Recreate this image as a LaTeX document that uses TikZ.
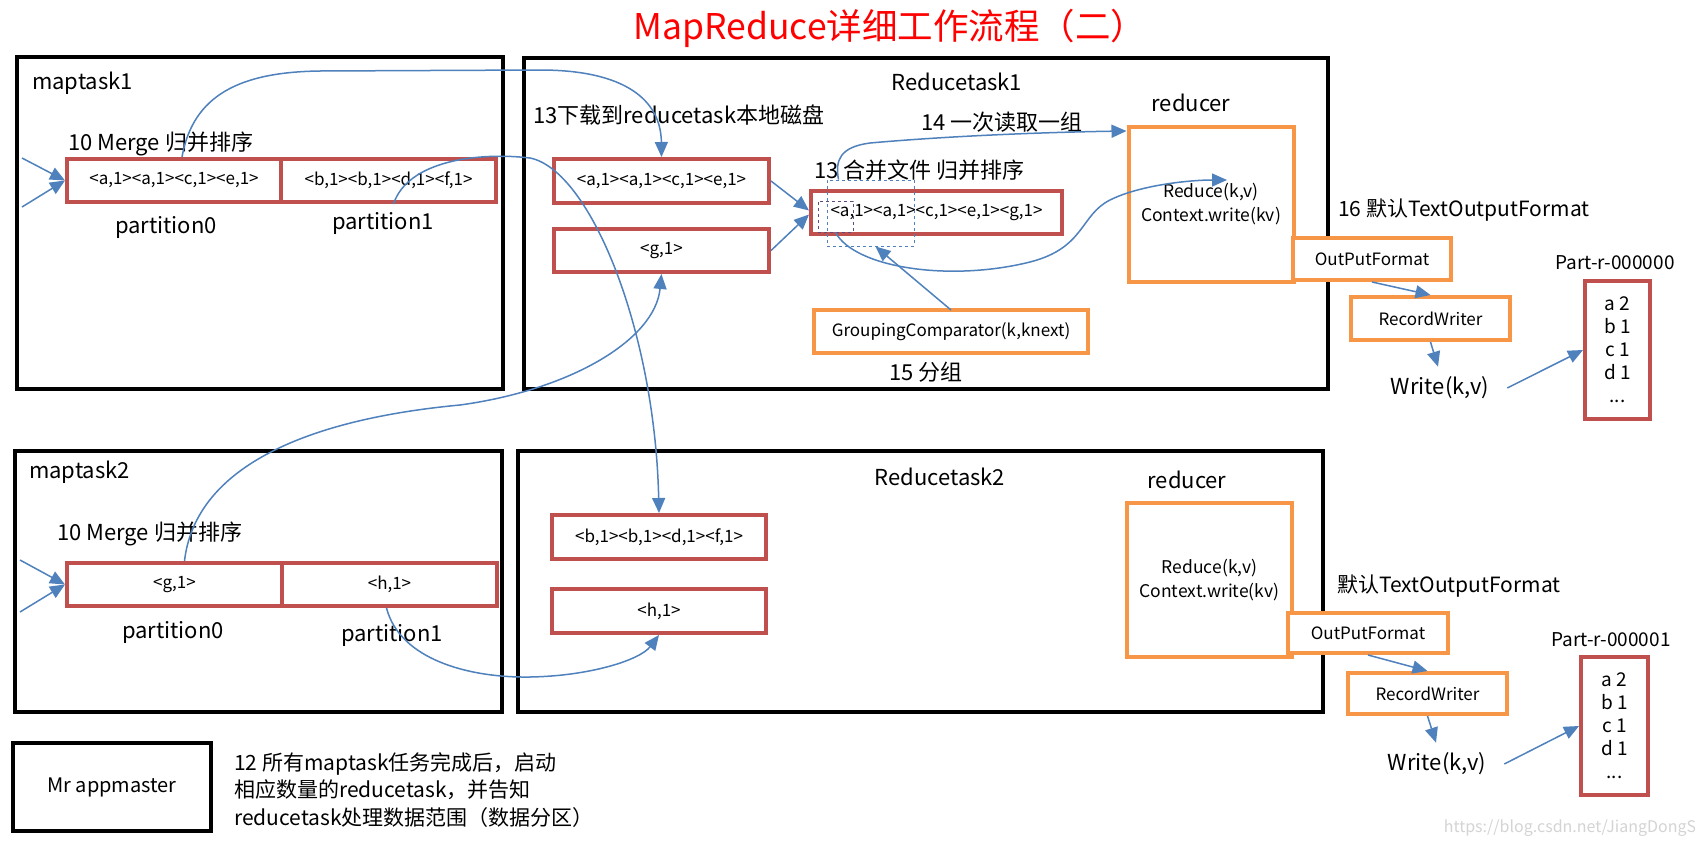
\documentclass[tikz,border=0pt]{standalone}
\usepackage{fontspec}
\setmainfont{Noto Sans CJK SC}
\usetikzlibrary{arrows.meta}
\definecolor{boxred}{HTML}{C0504D}
\definecolor{boxorange}{HTML}{F79646}
\definecolor{flowblue}{HTML}{4F81BD}
\definecolor{grpurple}{HTML}{604A7B}
\definecolor{wmgray}{HTML}{D4D4D4}
\newcommand{\bigf}{\fontsize{22}{27}\selectfont}
\newcommand{\smallf}{\fontsize{17}{21}\selectfont}
\newcommand{\partf}{\fontsize{19}{23}\selectfont}
\tikzset{
  taskbox/.style={draw=black, line width=4.5pt, inner sep=0pt},
  redbox/.style={draw=boxred, line width=4pt, fill=white, inner sep=0pt, font=\smallf},
  orangebox/.style={draw=boxorange, line width=4pt, fill=white, inner sep=0pt, font=\smallf},
  lbl/.style={inner sep=0pt, font=\bigf},
  sz/.style 2 args={minimum width=#1, minimum height=#2},
  flow/.style={draw=flowblue, line width=1.5pt, -{Triangle[length=15pt,width=13pt]}},
  bluedash/.style={draw=flowblue, line width=1pt, dashed},
  purpledash/.style={draw=grpurple, line width=1pt, dashed},
}
\begin{document}
\begin{tikzpicture}[x=1pt,y=-1pt]
\useasboundingbox (0,0) rectangle (1695,846);
\fill[white] (0,0) rectangle (1695,846);

% title
\node[inner sep=0pt, font=\fontsize{35.5}{40}\selectfont, text=red] (title) at (890,28) {MapReduce详细工作流程（二）};

% task boxes
\node[taskbox, sz={486}{332}] (mt1) at (260,223) {};
\node[taskbox, sz={804}{331}] (rt1) at (926,223.5) {};
\node[taskbox, sz={487}{261}] (mt2) at (258.5,581.5) {};
\node[taskbox, sz={805}{261}] (rt2) at (920.5,581.5) {};
\node[taskbox, sz={198}{88}, font=\fontsize{20}{24}\selectfont] (am) at (112,787) {Mr appmaster};

% maptask1
\node[lbl, anchor=west] (mt1l) at (32,83) {maptask1};
\node[lbl, anchor=west] (mg1) at (68,144) {10 Merge 归并排序};
\node[redbox, sz={214}{43}] (m1p0) at (174,180.5) {<a,1><a,1><c,1><e,1>};
\node[redbox, sz={215}{43}] (m1p1) at (388.5,180.5) {<b,1><b,1><d,1><f,1>};
\node[lbl] (m1pl0) at (166,227) {partition0};
\node[lbl] (m1pl1) at (383,223) {partition1};

% maptask2
\node[lbl, anchor=west] (mt2l) at (29,472) {maptask2};
\node[lbl, anchor=west] (mg2) at (57,534) {10 Merge 归并排序};
\node[redbox, sz={215}{43}] (m2p0) at (174.5,584.5) {<g,1>};
\node[redbox, sz={215}{43}] (m2p1) at (389.5,584.5) {<h,1>};
\node[lbl] (m2pl0) at (173,632) {partition0};
\node[lbl] (m2pl1) at (392,635) {partition1};

% Reducetask1
\node[lbl] (rt1l) at (957,82) {Reducetask1};
\node[lbl, anchor=west] (dl) at (533,115) {13下载到reducetask本地磁盘};
\node[redbox, sz={215}{44}] (A1) at (661.5,181) {<a,1><a,1><c,1><e,1>};
\node[redbox, sz={215}{43}] (G1) at (661.5,250.5) {<g,1>};
\node[lbl, anchor=west] (rd14) at (921,122) {14 一次读取一组};
\node[lbl, anchor=west] (mg13) at (814,170) {13 合并文件 归并排序};
\node[redbox, sz={251}{43}] (mrg) at (936.5,212.5) {<a,1><a,1><c,1><e,1><g,1>};
\node[bluedash, sz={87}{66}, inner sep=0pt] (dsh) at (870.5,213) {};
\node[purpledash, sz={35}{31}, inner sep=0pt] (pur) at (835.5,216.5) {};
\node[orangebox, sz={274}{43}] (grp) at (951,331.5) {GroupingComparator(k,knext)};
\node[lbl] (g15) at (926,372) {15 分组};
\node[lbl] (red1l) at (1191,103) {reducer};
\node[orangebox, sz={165}{155}, align=center, font=\fontsize{17.5}{24}\selectfont] (red1) at (1211,204.5) {Reduce(k,v)\\Context.write(kv)};
\node[orangebox, sz={158}{42}] (opf1) at (1372,259) {OutPutFormat};
\node[orangebox, sz={159}{43}] (rw1) at (1430.5,318.5) {RecordWriter};
\node[lbl, anchor=west, font=\fontsize{21}{26}\selectfont] (tf1) at (1338,210) {16 默认TextOutputFormat};
\node[lbl] (w1) at (1440,388) {Write(k,v)};
\node[inner sep=0pt, font=\partf] (pn1) at (1615,263) {Part-r-000000};
\node[draw=boxred, line width=4pt, sz={65}{138}, inner sep=0pt, align=center, font=\partf] (pt1) at (1617.5,350) {a 2\\b 1\\c 1\\d 1\\...};

% Reducetask2
\node[lbl] (rt2l) at (940,477) {Reducetask2};
\node[redbox, sz={214}{44}] (B) at (659,537) {<b,1><b,1><d,1><f,1>};
\node[redbox, sz={214}{44}] (H) at (659,611) {<h,1>};
\node[lbl] (red2l) at (1187,480) {reducer};
\node[orangebox, sz={165}{154}, align=center, font=\fontsize{17.5}{24}\selectfont] (red2) at (1209.5,580) {Reduce(k,v)\\Context.write(kv)};
\node[orangebox, sz={160}{40}] (opf2) at (1368,633) {OutPutFormat};
\node[orangebox, sz={159}{41}] (rw2) at (1427.5,693.5) {RecordWriter};
\node[lbl, anchor=west, font=\fontsize{21}{26}\selectfont] (tf2) at (1337,586) {默认TextOutputFormat};
\node[lbl] (w2) at (1437,764) {Write(k,v)};
\node[inner sep=0pt, font=\partf] (pn2) at (1611,640) {Part-r-000001};
\node[draw=boxred, line width=4pt, sz={67}{138}, inner sep=0pt, align=center, font=\partf] (pt2) at (1614.5,726) {a 2\\b 1\\c 1\\d 1\\...};

% appmaster note
\node[inner sep=0pt, anchor=west, align=left, font=\fontsize{21}{27.5}\selectfont] (note) at (234,790) {12 所有maptask任务完成后，启动\\相应数量的reducetask，并告知\\reducetask处理数据范围（数据分区）};

% watermark
\node[inner sep=0pt, text=wmgray, font=\fontsize{16}{19}\selectfont] (wm) at (1570,828) {https://blog.csdn.net/JiangDongS};

% entry arrows
\coordinate (e1a) at (22,158);
\coordinate (e1b) at (22,207);
\coordinate (e2a) at (20,560);
\coordinate (e2b) at (20,612);
\draw[flow] (e1a) -- (m1p0.west);
\draw[flow] (e1b) -- (m1p0.west);
\draw[flow] (e2a) -- (m2p0.west);
\draw[flow] (e2b) -- (m2p0.west);

% shuffle curves
\draw[flow] ([xshift=8pt]m1p0.north) .. controls (193,95) and (240,72) .. (320,71) -- (540,70) .. controls (625,70) and (661,100) .. (A1.north);
\draw[flow] ([xshift=5pt]m1p1.south) .. controls (408,160) and (480,152) .. (530,158) .. controls (590,170) and (655,330) .. (B.north);
\draw[flow] ([xshift=10pt]m2p0.north) .. controls (195,470) and (300,420) .. (460,405) .. controls (570,390) and (655,340) .. (G1.south);
\draw[flow] ([xshift=-3pt]m2p1.south) .. controls (400,660) and (470,678) .. (530,677) .. controls (590,676) and (640,660) .. (H.south);

% merge
\draw[flow] (A1.east) -- ([yshift=2pt]mrg.west);
\draw[flow] (G1.east) -- ([yshift=-2pt]mrg.west);

% read group
\draw[flow] ([xshift=12pt]dsh.north west) .. controls (835,160) and (840,147) .. (870,143) .. controls (960,135) and (1060,132) .. ([yshift=-6pt]red1.north west);
\coordinate (rin) at (1227,180);
\draw[flow] (pur.south) .. controls (855,268) and (950,282) .. (1030,262) .. controls (1085,248) and (1080,215) .. (1110,200) .. controls (1140,185) and (1190,180) .. (rin);
\draw[flow] ([yshift=-2pt]grp.north) -- ([xshift=5pt]dsh.south);

% output chain 1
\draw[flow] (opf1.south) -- (rw1.north);
\draw[flow] (rw1.south) -- ([xshift=-2pt,yshift=10pt]w1.north);
\draw[flow] ([xshift=18pt]w1.east) -- (pt1.west);
% output chain 2
\draw[flow] (opf2.south) -- (rw2.north);
\draw[flow] (rw2.south) -- ([xshift=-1pt,yshift=10pt]w2.north);
\draw[flow] ([xshift=18pt]w2.east) -- (pt2.west);
\end{tikzpicture}
\end{document}
